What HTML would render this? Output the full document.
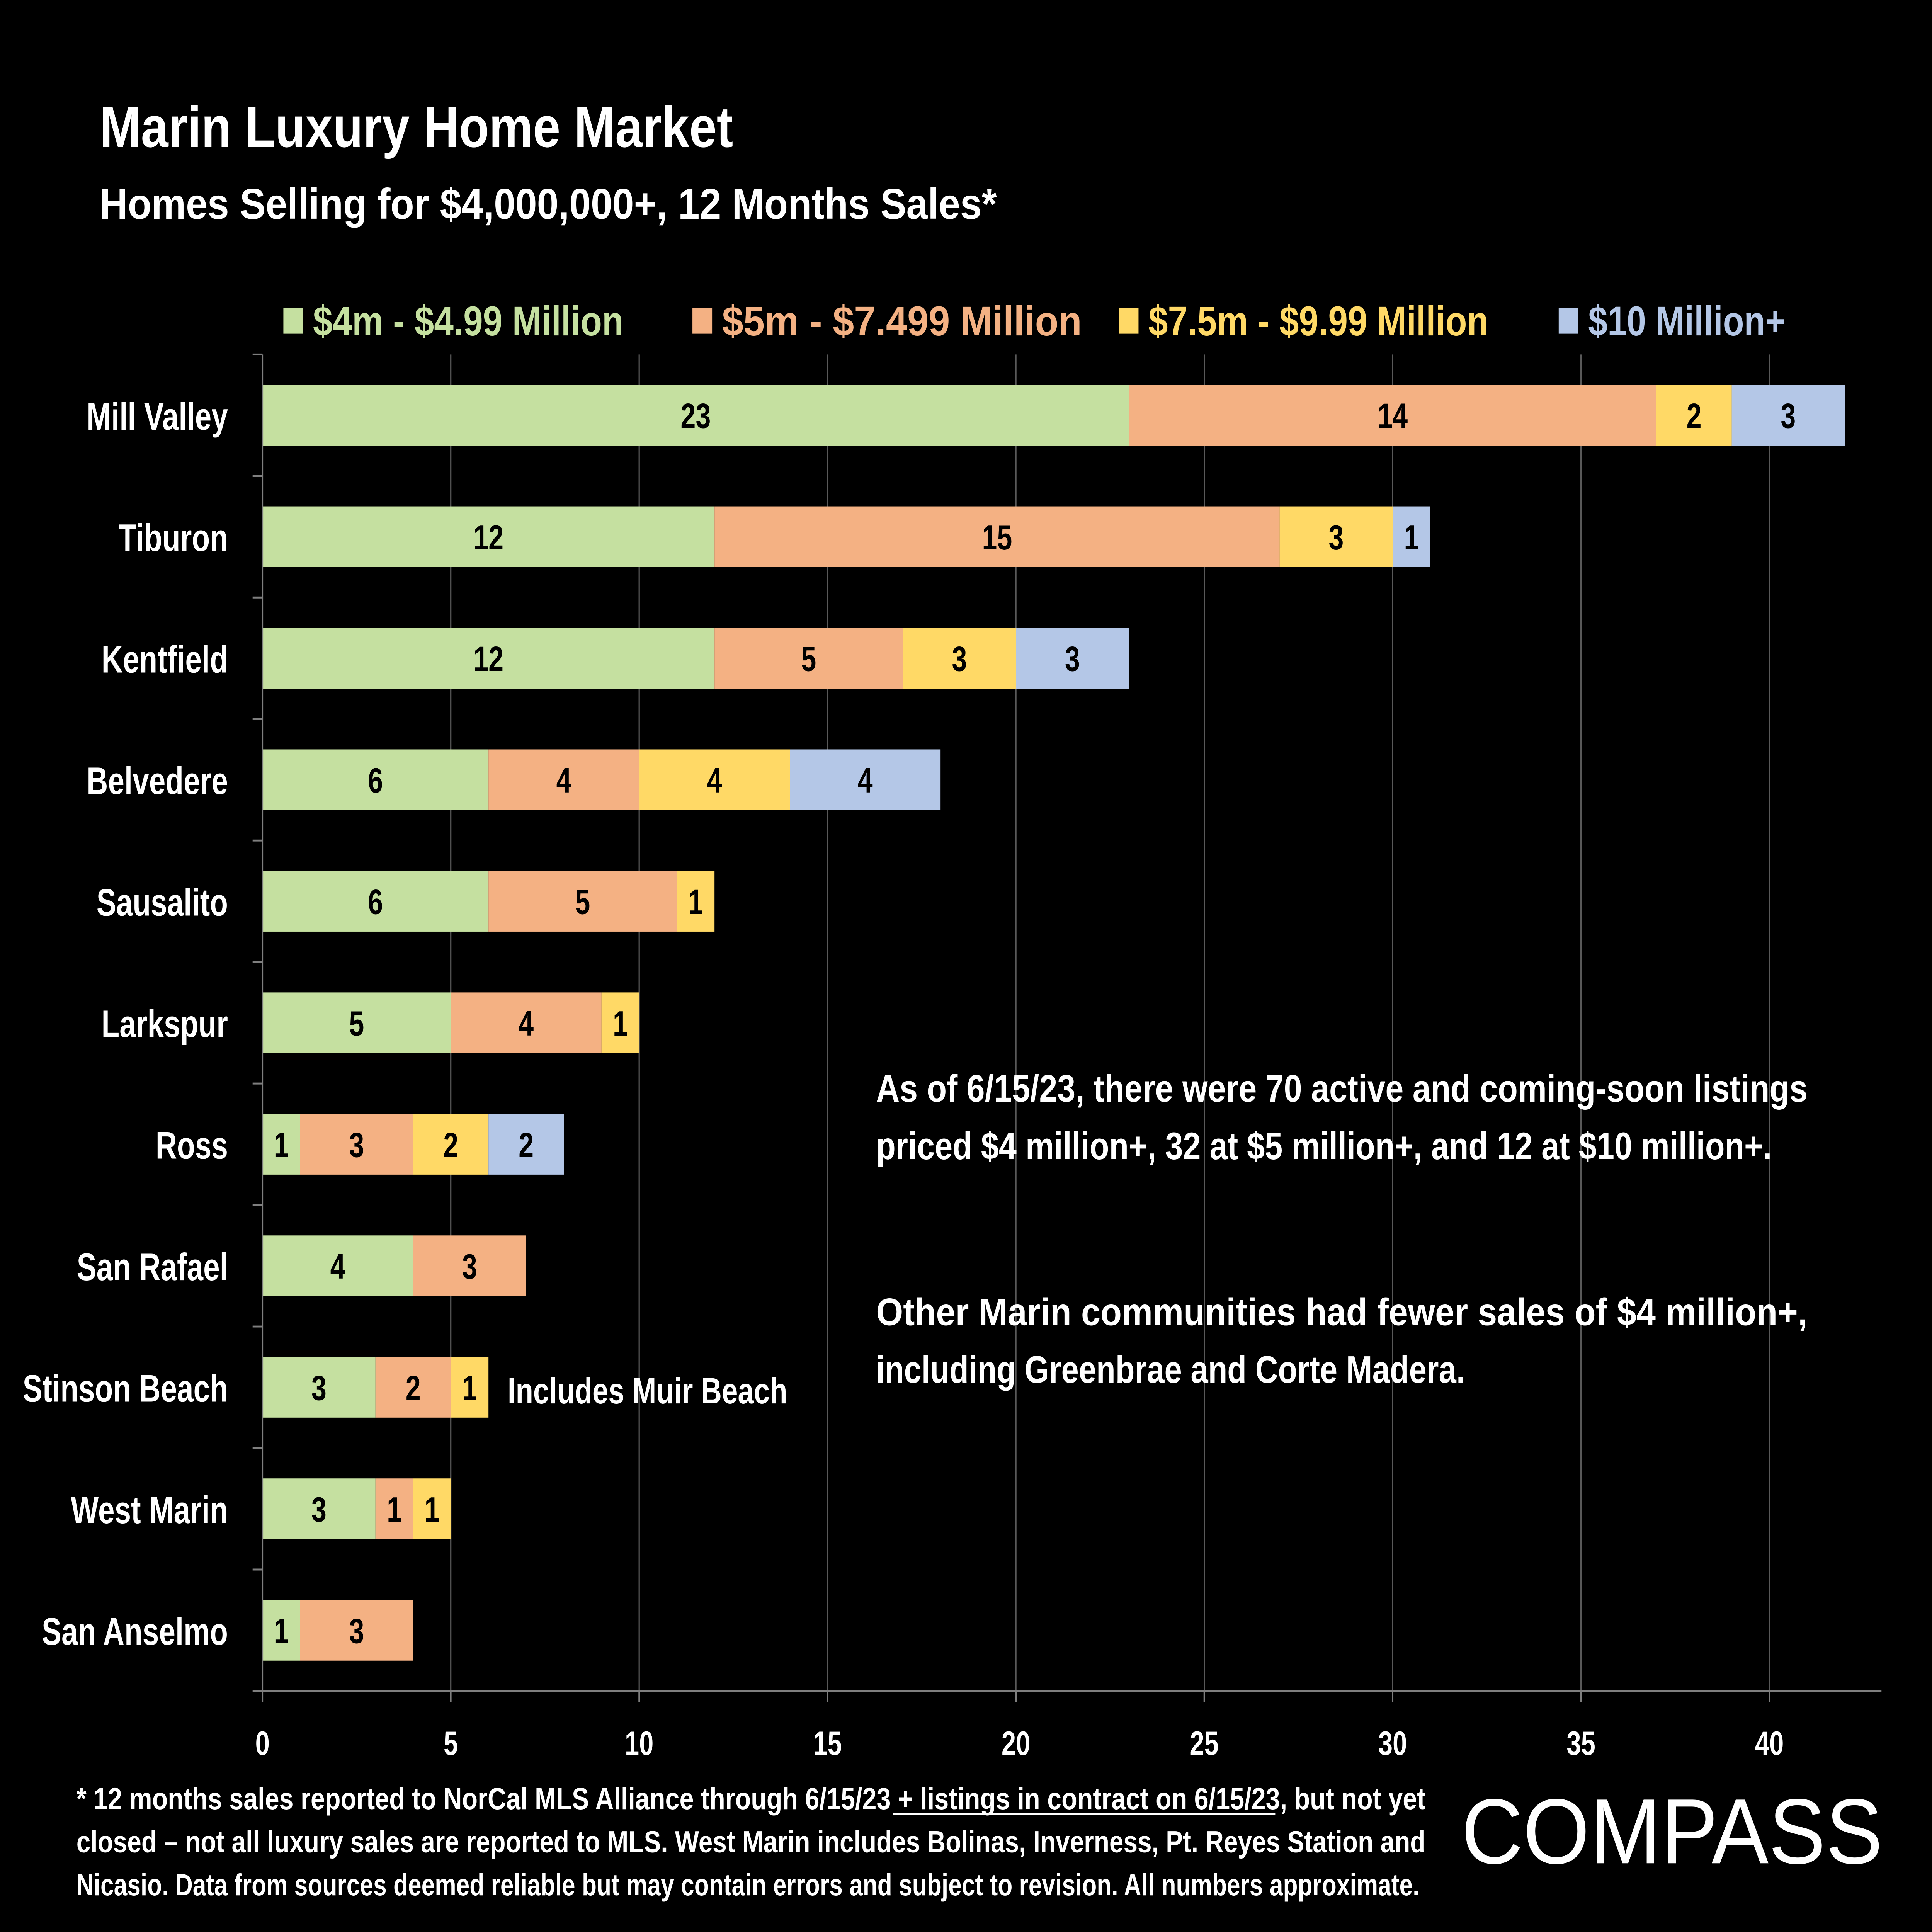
<!DOCTYPE html>
<html><head><meta charset="utf-8"><title>Marin Luxury Home Market</title>
<style>
html,body{margin:0;padding:0;background:#000;width:100%;height:100%;overflow:hidden;}
svg{display:block;position:fixed;left:0;top:0;width:100vw;height:100vh;}
text{font-family:"Liberation Sans",Arial,sans-serif;font-weight:bold;}
</style></head>
<body>
<svg id="chart" viewBox="0 0 1568 1210" preserveAspectRatio="none" xmlns="http://www.w3.org/2000/svg">
<rect width="1568" height="1210" fill="#000"/>
<text x="81" y="92" font-size="36" fill="#fff" textLength="514" lengthAdjust="spacingAndGlyphs">Marin Luxury Home Market</text>
<text x="81" y="137" font-size="27" fill="#fff" textLength="728" lengthAdjust="spacingAndGlyphs">Homes Selling for $4,000,000+, 12 Months Sales*</text>
<g id="legend"></g>
<g id="grid"></g>
<g id="bars"></g>
<g id="axes"></g>
<text x="412" y="879" font-size="23" fill="#fff" textLength="227" lengthAdjust="spacingAndGlyphs">Includes Muir Beach</text>
<g font-size="24" fill="#fff">
<text x="711" y="690" textLength="756" lengthAdjust="spacingAndGlyphs">As of 6/15/23, there were 70 active and coming-soon listings</text>
<text x="711" y="726" textLength="727" lengthAdjust="spacingAndGlyphs">priced $4 million+, 32 at $5 million+, and 12 at $10 million+.</text>
<text x="711" y="830" textLength="756" lengthAdjust="spacingAndGlyphs">Other Marin communities had fewer sales of $4 million+,</text>
<text x="711" y="866" textLength="478" lengthAdjust="spacingAndGlyphs">including Greenbrae and Corte Madera.</text>
</g>
<g font-size="19" fill="#fff">
<text x="62" y="1133" textLength="1095" lengthAdjust="spacingAndGlyphs">* 12 months sales reported to NorCal MLS Alliance through 6/15/23 + listings in contract on 6/15/23, but not yet</text>
<line x1="725" y1="1136" x2="1035" y2="1136" stroke="#fff" stroke-width="1.5"/>
<text x="62" y="1160" textLength="1095" lengthAdjust="spacingAndGlyphs">closed – not all luxury sales are reported to MLS. West Marin includes Bolinas, Inverness, Pt. Reyes Station and</text>
<text x="62" y="1187" textLength="1090" lengthAdjust="spacingAndGlyphs">Nicasio. Data from sources deemed reliable but may contain errors and subject to revision. All numbers approximate.</text>
</g>
<text x="1186" y="1167" font-size="58" fill="#fff" style="font-weight:normal" textLength="342" lengthAdjust="spacingAndGlyphs">COMPASS</text>
</svg>
<script>
const categories = ["Mill Valley","Tiburon","Kentfield","Belvedere","Sausalito","Larkspur","Ross","San Rafael","Stinson Beach","West Marin","San Anselmo"];
const s4m = [23,12,12,6,6,5,1,4,3,3,1];
const s5m = [14,15,5,4,5,4,3,3,2,1,3];
const s75m = [2,3,3,4,1,1,2,0,1,1,0];
const s10m = [3,1,3,4,0,0,2,0,0,0,0];
const seriesNames = ["$4m - $4.99 Million","$5m - $7.499 Million","$7.5m - $9.99 Million","$10 Million+"];
const xTicks = [0,5,10,15,20,25,30,35,40];

const NS="http://www.w3.org/2000/svg";
const colors=["#c5e0a0","#f4b183","#ffd966","#b4c7e7"];
const series=[s4m,s5m,s75m,s10m];
const x0=213, unit=(1436-213)/40, xEnd=1527, yTop=222, rowH=76.1, barH=38, axisY=1059;
const xs=v=>x0+v*unit;
const yc=i=>yTop+rowH*(i+0.5);
function mk(tag,attrs,parent){const e=document.createElementNS(NS,tag);for(const k in attrs)e.setAttribute(k,attrs[k]);parent.appendChild(e);return e;}
const grid=document.getElementById('grid'),bars=document.getElementById('bars'),axes=document.getElementById('axes'),legend=document.getElementById('legend');
xTicks.forEach(t=>{
  if(t>0){const l=mk('line',{x1:xs(t),x2:xs(t),y1:yTop,y2:axisY,stroke:'#595959','stroke-width':1},grid);
  
  }
  const tl=mk('text',{x:xs(t),y:axisY+40,'font-size':21,fill:'#fff','text-anchor':'middle'},axes);
  tl.textContent=t;
  
  
  mk('line',{x1:xs(t),x2:xs(t),y1:axisY,y2:axisY+7,stroke:'#7f7f7f','stroke-width':1.2},axes);
});
const ax=mk('line',{x1:x0,x2:xEnd,y1:axisY,y2:axisY,stroke:'#7f7f7f','stroke-width':1.2},axes);


const ay=mk('line',{x1:x0,x2:x0,y1:yTop,y2:axisY,stroke:'#7f7f7f','stroke-width':1.2},axes);


for(let i=0;i<=categories.length;i++){mk('line',{x1:x0-8,x2:x0,y1:yTop+rowH*i,y2:yTop+rowH*i,stroke:'#7f7f7f','stroke-width':1.2},axes);}
categories.forEach((c,i)=>{
  const t=mk('text',{x:185,y:yc(i)+9,'font-size':24,fill:'#fff','text-anchor':'end'},axes);
  t.textContent=c;
  
  
  let acc=0;
  series.forEach((sv,k)=>{
    const v=sv[i]; if(!v) return;
    const r=mk('rect',{x:xs(acc),y:yc(i)-barH/2,width:xs(acc+v)-xs(acc),height:barH,fill:colors[k]},bars);
    
    
    const vt=mk('text',{x:(xs(acc)+xs(acc+v))/2,y:yc(i)+8,'font-size':22,fill:'#000','text-anchor':'middle'},bars);
    vt.textContent=v;
    
    
    acc+=v;
  });
});
const lx=[230,562,908,1265], lw=[252,292,276,160];
seriesNames.forEach((n,k)=>{
  const r=mk('rect',{x:lx[k],y:193,width:16,height:16,fill:colors[k]},legend);
  
  
  const t=mk('text',{x:lx[k]+24,y:210,'font-size':26,fill:colors[k],textLength:lw[k],lengthAdjust:'spacingAndGlyphs'},legend);
  t.textContent=n;
  
  
});
</script>
</body></html>
